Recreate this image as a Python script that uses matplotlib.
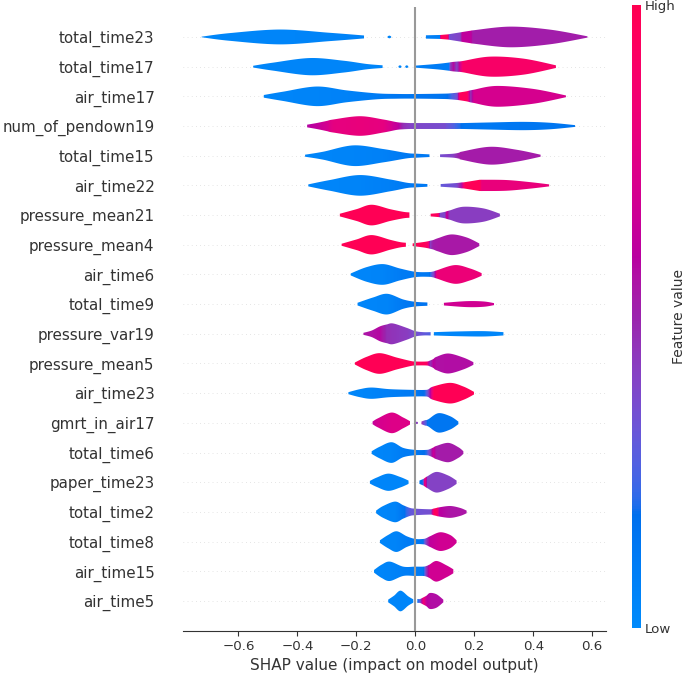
import numpy as np
import matplotlib
matplotlib.use("Agg")
import matplotlib.pyplot as plt
from matplotlib.colors import LinearSegmentedColormap, Normalize
from matplotlib.cm import ScalarMappable
from matplotlib.patches import Polygon

# -------------------------------------------
# data
# each violin part: (shap values, half widths in row units, feature value 0..1)
# -------------------------------------------

features = ["total_time23", "total_time17", "air_time17", "num_of_pendown19",
            "total_time15", "air_time22", "pressure_mean21", "pressure_mean4",
            "air_time6", "total_time9", "pressure_var19", "pressure_mean5",
            "air_time23", "gmrt_in_air17", "total_time6", "paper_time23",
            "total_time2", "total_time8", "air_time15", "air_time5"]

total_time23 = [
    ([-0.725, -0.629, -0.459, -0.290, -0.174], [0.01, 0.13, 0.25, 0.14, 0.05], [0.03, 0.03, 0.04, 0.05, 0.06]),
    ([-0.094, -0.088, -0.082], [0.02, 0.045, 0.02], [0.05, 0.05, 0.05]),
    ([0.036, 0.084, 0.089, 0.112, 0.118, 0.154, 0.161, 0.189, 0.197, 0.321, 0.457, 0.584],
     [0.056, 0.067, 0.07, 0.09, 0.10, 0.157, 0.169, 0.213, 0.225, 0.348, 0.247, 0.022],
     [0.08, 0.08, 0.95, 0.95, 0.35, 0.4, 0.62, 0.62, 0.52, 0.52, 0.52, 0.52]),
]
total_time17 = [
    ([-0.550, -0.482, -0.357, -0.244, -0.165, -0.111], [0.03, 0.135, 0.29, 0.20, 0.09, 0.045], [0.04] * 6),
    ([-0.057, -0.052, -0.047], [0.02, 0.045, 0.02], [0.05] * 3),
    ([-0.034, -0.029, -0.024], [0.02, 0.045, 0.02], [0.05] * 3),
    ([0.0, 0.072, 0.112, 0.118, 0.129, 0.140, 0.146, 0.161, 0.253, 0.367, 0.477],
     [0.034, 0.09, 0.135, 0.146, 0.16, 0.17, 0.175, 0.19, 0.337, 0.27, 0.045],
     [0.08, 0.1, 0.1, 0.4, 0.58, 0.4, 0.55, 0.9, 0.9, 0.9, 0.9]),
]
air_time17 = [
    ([-0.514, -0.448, -0.335, -0.233, -0.131, -0.063, 0.0, 0.095, 0.118, 0.140, 0.149, 0.174, 0.186, 0.197, 0.276, 0.400, 0.511],
     [0.045, 0.157, 0.33, 0.20, 0.10, 0.08, 0.078, 0.09, 0.10, 0.12, 0.13, 0.17, 0.20, 0.22, 0.35, 0.25, 0.03],
     [0.04, 0.04, 0.05, 0.06, 0.1, 0.13, 0.14, 0.15, 0.2, 0.35, 0.95, 0.95, 0.45, 0.7, 0.7, 0.7, 0.7]),
]
num_of_pendown19 = [
    ([-0.367, -0.335, -0.301, -0.278, -0.188, -0.109, -0.063, -0.041, -0.018, 0.0, 0.095, 0.140, 0.163, 0.253, 0.367, 0.457, 0.542],
     [0.045, 0.10, 0.17, 0.22, 0.33, 0.22, 0.13, 0.11, 0.10, 0.10, 0.10, 0.10, 0.10, 0.12, 0.14, 0.11, 0.03],
     [0.58, 0.62, 0.7, 0.78, 0.8, 0.78, 0.62, 0.46, 0.4, 0.38, 0.36, 0.22, 0.15, 0.12, 0.14, 0.14, 0.14]),
]
total_time15 = [
    ([-0.374, -0.312, -0.210, -0.109, -0.029, 0.005, 0.048], [0.034, 0.135, 0.348, 0.225, 0.09, 0.067, 0.045],
     [0.04, 0.04, 0.05, 0.07, 0.12, 0.12, 0.12]),
    ([0.084, 0.129, 0.152, 0.157, 0.253, 0.344, 0.425], [0.045, 0.067, 0.11, 0.135, 0.30, 0.20, 0.034],
     [0.35, 0.4, 0.52, 0.53, 0.53, 0.53, 0.53]),
]
air_time22 = [
    ([-0.363, -0.290, -0.188, -0.086, -0.029, 0.0, 0.041], [0.034, 0.18, 0.348, 0.20, 0.09, 0.067, 0.045],
     [0.04, 0.04, 0.05, 0.08, 0.12, 0.12, 0.12]),
    ([0.086, 0.140, 0.157, 0.169, 0.219, 0.226, 0.310, 0.389, 0.454], [0.045, 0.08, 0.10, 0.11, 0.19, 0.19, 0.18, 0.11, 0.034],
     [0.3, 0.35, 0.55, 0.97, 0.97, 0.8, 0.8, 0.8, 0.8]),
]
pressure_mean21 = [
    ([-0.256, -0.199, -0.148, -0.086, -0.041, -0.020], [0.045, 0.20, 0.348, 0.20, 0.11, 0.09], [0.98] * 6),
    ([0.052, 0.078, 0.086, 0.101, 0.107, 0.118, 0.163, 0.231, 0.287], [0.045, 0.067, 0.08, 0.11, 0.13, 0.16, 0.28, 0.225, 0.045],
     [0.95, 0.95, 0.38, 0.38, 0.65, 0.42, 0.42, 0.42, 0.42]),
]
pressure_mean4 = [
    ([-0.250, -0.199, -0.148, -0.086, -0.052, -0.032], [0.034, 0.18, 0.326, 0.169, 0.09, 0.067], [0.98] * 6),
    ([-0.009, 0.027, 0.044, 0.052, 0.061, 0.078, 0.123, 0.174, 0.217], [0.045, 0.09, 0.12, 0.14, 0.16, 0.225, 0.348, 0.247, 0.045],
     [0.98, 0.98, 0.9, 0.42, 0.52, 0.54, 0.54, 0.54, 0.54]),
]
air_time6 = [
    ([-0.219, -0.165, -0.109, -0.052, 0.0, 0.044, 0.061, 0.072, 0.134, 0.186, 0.225],
     [0.034, 0.247, 0.348, 0.20, 0.09, 0.079, 0.10, 0.135, 0.315, 0.20, 0.045],
     [0.03, 0.04, 0.05, 0.1, 0.12, 0.12, 0.4, 0.82, 0.82, 0.82, 0.82]),
]
total_time9 = [
    ([-0.196, -0.143, -0.095, -0.041, 0.0, 0.041], [0.045, 0.225, 0.348, 0.157, 0.079, 0.056], [0.04, 0.04, 0.05, 0.12, 0.15, 0.15]),
    ([0.097, 0.174, 0.231, 0.267], [0.045, 0.10, 0.09, 0.034], [0.68] * 4),
]
pressure_var19 = [
    ([-0.176, -0.148, -0.120, -0.097, -0.075, -0.029, 0.0, 0.027, 0.052], [0.034, 0.11, 0.25, 0.315, 0.348, 0.20, 0.09, 0.056, 0.056],
     [0.55, 0.56, 0.58, 0.47, 0.45, 0.42, 0.35, 0.3, 0.25]),
    ([0.063, 0.140, 0.231, 0.299], [0.056, 0.079, 0.09, 0.056], [0.03] * 4),
]
pressure_mean5 = [
    ([-0.205, -0.165, -0.120, -0.063, -0.018, 0.0, 0.038, 0.050, 0.061, 0.072, 0.112, 0.163, 0.197],
     [0.034, 0.225, 0.348, 0.20, 0.09, 0.067, 0.067, 0.10, 0.15, 0.225, 0.337, 0.20, 0.045],
     [0.98, 0.98, 0.98, 0.98, 0.97, 0.96, 0.95, 0.45, 0.6, 0.56, 0.57, 0.57, 0.57]),
]
air_time23 = [
    ([-0.227, -0.188, -0.148, -0.086, 0.0, 0.033, 0.044, 0.061, 0.118, 0.163, 0.199],
     [0.034, 0.135, 0.19, 0.135, 0.11, 0.11, 0.13, 0.225, 0.348, 0.225, 0.045],
     [0.03, 0.04, 0.05, 0.08, 0.12, 0.2, 0.42, 0.98, 0.98, 0.98, 0.98]),
]
gmrt_in_air17 = [
    ([-0.145, -0.126, -0.080, -0.041, -0.018], [0.045, 0.157, 0.348, 0.18, 0.056], [0.62, 0.7, 0.74, 0.74, 0.74]),
    ([0.001, 0.005, 0.009], [0.02, 0.04, 0.02], [0.42] * 3),
    ([0.021, 0.033, 0.044, 0.078, 0.118, 0.146], [0.045, 0.09, 0.12, 0.326, 0.225, 0.045], [0.5, 0.3, 0.14, 0.14, 0.14, 0.14]),
]
total_time6 = [
    ([-0.148, -0.120, -0.080, -0.041, 0.0, 0.038, 0.050, 0.061, 0.072, 0.112, 0.146, 0.163],
     [0.045, 0.20, 0.348, 0.157, 0.09, 0.09, 0.12, 0.17, 0.225, 0.326, 0.18, 0.045],
     [0.03, 0.04, 0.05, 0.1, 0.12, 0.2, 0.42, 0.65, 0.53, 0.53, 0.53, 0.53]),
]
paper_time23 = [
    ([-0.154, -0.131, -0.092, -0.052, -0.023], [0.045, 0.157, 0.29, 0.18, 0.056], [0.04] * 5),
    ([0.014, 0.027, 0.033, 0.041, 0.072, 0.112, 0.140], [0.056, 0.11, 0.15, 0.2, 0.348, 0.225, 0.056],
     [0.15, 0.2, 0.9, 0.4, 0.4, 0.4, 0.4]),
]
total_time2 = [
    ([-0.133, -0.109, -0.069, -0.041, -0.018, 0.0, 0.050, 0.061, 0.072, 0.078, 0.118, 0.152, 0.174],
     [0.045, 0.20, 0.348, 0.225, 0.135, 0.11, 0.09, 0.11, 0.135, 0.15, 0.20, 0.135, 0.045],
     [0.03, 0.04, 0.05, 0.15, 0.3, 0.33, 0.35, 0.98, 0.9, 0.6, 0.55, 0.55, 0.55]),
]
total_time8 = [
    ([-0.120, -0.092, -0.063, -0.029, 0.0, 0.027, 0.038, 0.050, 0.084, 0.118, 0.140],
     [0.045, 0.225, 0.348, 0.18, 0.09, 0.09, 0.12, 0.18, 0.315, 0.225, 0.045],
     [0.04, 0.04, 0.05, 0.1, 0.12, 0.15, 0.42, 0.62, 0.68, 0.68, 0.68]),
]
air_time15 = [
    ([-0.140, -0.114, -0.086, -0.041, 0.0, 0.027, 0.038, 0.048, 0.072, 0.106, 0.129],
     [0.045, 0.225, 0.326, 0.157, 0.157, 0.157, 0.18, 0.225, 0.348, 0.20, 0.067],
     [0.03, 0.04, 0.05, 0.08, 0.1, 0.12, 0.45, 0.68, 0.68, 0.68, 0.68]),
]
air_time5 = [
    ([-0.092, -0.072, -0.050, -0.024, -0.007], [0.045, 0.18, 0.348, 0.157, 0.056], [0.04] * 5),
    ([0.007, 0.016, 0.027, 0.038, 0.050, 0.072, 0.095], [0.067, 0.067, 0.12, 0.18, 0.27, 0.225, 0.045],
     [0.12, 0.3, 0.85, 0.6, 0.57, 0.57, 0.57]),
]

violins = [total_time23, total_time17, air_time17, num_of_pendown19, total_time15,
           air_time22, pressure_mean21, pressure_mean4, air_time6, total_time9,
           pressure_var19, pressure_mean5, air_time23, gmrt_in_air17, total_time6,
           paper_time23, total_time2, total_time8, air_time15, air_time5]

xticks = [-0.6, -0.4, -0.2, 0.0, 0.2, 0.4, 0.6]

# -------------------------------------------
# colormap: blue -> purple -> red (LCH path)
# -------------------------------------------

def lch_to_rgb(l, c, h):
    a = c * np.cos(h)
    b = c * np.sin(h)
    fy = (l + 16) / 116
    fx = fy + a / 500
    fz = fy - b / 200

    def finv(t):
        return np.where(t > 6 / 29, t ** 3, 3 * (6 / 29) ** 2 * (t - 4 / 29))

    xyz = np.array([0.95047 * finv(fx), finv(fy), 1.08883 * finv(fz)])
    m = np.array([[3.2406, -1.5372, -0.4986],
                  [-0.9689, 1.8758, 0.0415],
                  [0.0557, -0.2040, 1.0570]])
    rgb = m @ xyz
    rgb = np.where(rgb > 0.0031308, 1.055 * np.abs(rgb) ** (1 / 2.4) - 0.055, 12.92 * rgb)
    return np.clip(rgb, 0, 1)

nsteps = 100
l_vals = list(np.linspace(54, 40, nsteps // 2)) + list(np.linspace(40, 54, nsteps // 2))
c_vals = np.linspace(70, 90, nsteps)
h_vals = np.linspace(4.6588, 0.35470565 + 2 * np.pi, nsteps)
cmap = LinearSegmentedColormap.from_list(
    "red_blue", [lch_to_rgb(l, c, h) for l, c, h in zip(l_vals, c_vals, h_vals)])


def catmull(xs, ws, n=16):
    p = np.column_stack([xs, ws]).astype(float)
    p = np.vstack([p[0], p, p[-1]])
    t = np.linspace(0, 1, n, endpoint=False)[:, None]
    out = []
    for i in range(1, len(p) - 2):
        p0, p1, p2, p3 = p[i - 1], p[i], p[i + 1], p[i + 2]
        seg = 0.5 * (2 * p1 + (-p0 + p2) * t + (2 * p0 - 5 * p1 + 4 * p2 - p3) * t ** 2
                     + (-p0 + 3 * p1 - 3 * p2 + p3) * t ** 3)
        out.append(seg)
    out.append(p[-2][None])
    return np.vstack(out)


# -------------------------------------------
# figure
# -------------------------------------------

axis_color = "#333333"
fig = plt.figure(figsize=(6.85, 6.73), dpi=100)
ax = fig.add_axes([0.2672, 0.0629, 0.6175, 0.9263])

n = len(features)
for i, parts in enumerate(violins):
    y = n - 1 - i
    ax.axhline(y=y, color="#cccccc", lw=0.5, dashes=(1, 5), zorder=-1)
    for xs, ws, cs in parts:
        pts = catmull(xs, ws)
        xx = pts[:, 0]
        ww = np.clip(pts[:, 1], 0, None)
        poly = Polygon(np.column_stack([np.r_[xx, xx[::-1]], np.r_[y + ww, y - ww[::-1]]]),
                       closed=True, facecolor="none", edgecolor="none")
        ax.add_patch(poly)
        grid = np.linspace(xs[0], xs[-1], 300)
        cv = np.interp(grid, xs, cs)
        im = ax.imshow(cv[None, :], cmap=cmap, vmin=0, vmax=1, aspect="auto",
                       extent=(xs[0] - 0.002, xs[-1] + 0.002, y - 0.45, y + 0.45),
                       interpolation="nearest", origin="lower", zorder=2)
        im.set_clip_path(poly)

ax.axvline(x=0, color="#999999", zorder=3)

ax.set_xlim(-0.788, 0.647)
ax.set_ylim(-1, n)
ax.set_yticks(range(n))
ax.set_yticklabels(features[::-1], fontsize=10.9)
ax.set_xticks(xticks)
ax.set_xticklabels([f"{t:.1f}".replace("-", "\u2212") for t in xticks])
ax.tick_params(color=axis_color, labelcolor=axis_color)
ax.tick_params("y", length=0, pad=20.5)
ax.tick_params("x", labelsize=9.6)
for s in ["top", "right", "left"]:
    ax.spines[s].set_visible(False)
ax.spines["bottom"].set_color(axis_color)
ax.set_xlabel("SHAP value (impact on model output)", fontsize=11.0, color=axis_color, labelpad=3)

cax = fig.add_axes([0.9226, 0.0669, 0.0131, 0.9257])
cb = fig.colorbar(ScalarMappable(norm=Normalize(0, 1), cmap=cmap), cax=cax, ticks=[0, 1])
cb.set_ticklabels(["Low", "High"])
cb.set_label("Feature value", size=10.0, labelpad=-3, color=axis_color)
cb.ax.tick_params(labelsize=9.6, length=0, pad=3, labelcolor=axis_color)
cb.outline.set_visible(False)

fig.savefig("out.png", dpi=100)
